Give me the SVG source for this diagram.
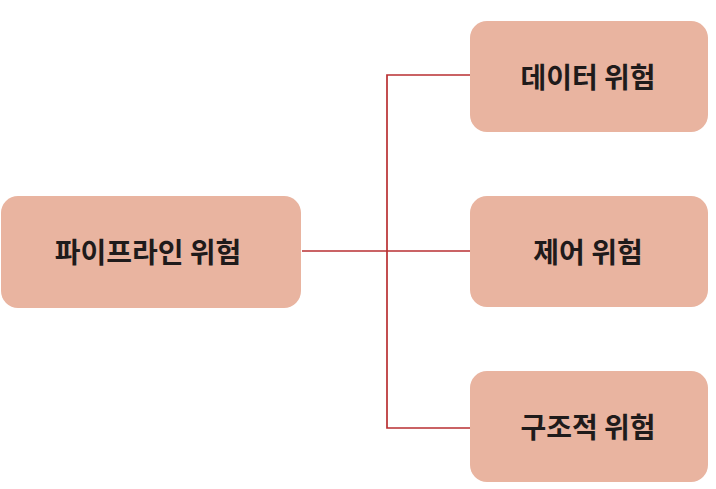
<svg xmlns="http://www.w3.org/2000/svg" width="716" height="489" viewBox="0 0 716 489">
<style>
.box{fill:#E9B4A0;}
.lbl{font-family:"Noto Sans CJK KR","Noto Sans",sans-serif;font-weight:700;font-size:28px;fill:#1f1b1b;text-anchor:middle;dominant-baseline:central;}
.conn{fill:none;stroke:#B92F32;stroke-width:1.7;}
</style>
<rect width="716" height="489" fill="#ffffff"/>
<g id="connectors">
<path class="conn" d="M302 251 H470"/>
<path class="conn" d="M470 75 H387 V428 H470"/>
</g>
<g id="pipeline">
<rect class="box" x="1" y="196" width="300" height="112" rx="17"/>
<text class="lbl" x="148" y="251">파이프라인 위험</text>
</g>
<g id="data">
<rect class="box" x="470" y="21" width="238" height="111" rx="17"/>
<text class="lbl" x="588" y="76">데이터 위험</text>
</g>
<g id="control">
<rect class="box" x="470" y="196" width="238" height="111" rx="17"/>
<text class="lbl" x="588" y="251">제어 위험</text>
</g>
<g id="structural">
<rect class="box" x="470" y="371" width="238" height="111" rx="17"/>
<text class="lbl" x="588" y="426">구조적 위험</text>
</g>
</svg>
